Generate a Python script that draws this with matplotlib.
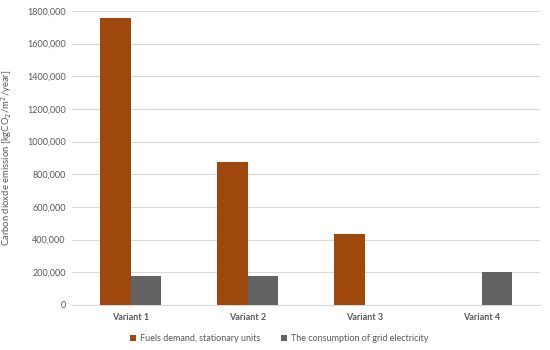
import matplotlib
matplotlib.use("Agg")
import matplotlib.pyplot as plt
import numpy as np

categories = ["Variant 1", "Variant 2", "Variant 3", "Variant 4"]
fuels = [1760000, 877000, 437000, 0]
grid = [176000, 176000, 0, 205000]
series_names = ["Fuels demand, stationary units", "The consumption of grid electricity"]
yticks = [0, 200000, 400000, 600000, 800000, 1000000, 1200000, 1400000, 1600000, 1800000]
ytick_labels = ["0", "200,000", "400,000", "600,000", "800,000", "1000,000",
                "1200,000", "1400,000", "1600,000", "1800,000"]

plt.rcParams['font.family'] = ['Lato', 'DejaVu Sans']
txt = "#595959"

fig = plt.figure(figsize=(5.5, 3.5), dpi=100)
ax = fig.add_axes([0.131, 0.1286, 0.851, 0.84])

x = np.arange(len(categories))
w = 0.26
ax.bar(x - w/2, fuels, w, color="#9E480E", label=series_names[0], zorder=3)
ax.bar(x + w/2, grid, w, color="#636363", label=series_names[1], zorder=3)

ax.set_xlim(-0.5, 3.5)
ax.set_ylim(0, 1800000)
ax.set_yticks(yticks)
ax.set_yticklabels(ytick_labels, fontsize=6.5, color=txt)
ax.set_xticks(x)
ax.set_xticklabels(categories, fontsize=6.5, fontweight="bold", color=txt)
ax.tick_params(axis="y", length=0, pad=4.5)
ax.tick_params(axis="x", length=0, pad=6)
ax.grid(axis="y", color="#D9D9D9", linewidth=0.8, zorder=0)
for s in ["top", "right", "left"]:
    ax.spines[s].set_visible(False)
ax.spines["bottom"].set_color("#D9D9D9")
ax.set_ylabel("Carbon dioxde emission [kgCO$_2$/m$^2$/year]", fontsize=6.8, color=txt)
ax.yaxis.set_label_coords(-0.124, 0.5)

leg = fig.legend(loc="center", bbox_to_anchor=(0.507, 0.033), ncol=2, frameon=False,
                 fontsize=6.5, handlelength=0.7, handleheight=0.7, columnspacing=2.3, handletextpad=0.4)
for t in leg.get_texts():
    t.set_color(txt)

fig.savefig("out.png", dpi=100)
